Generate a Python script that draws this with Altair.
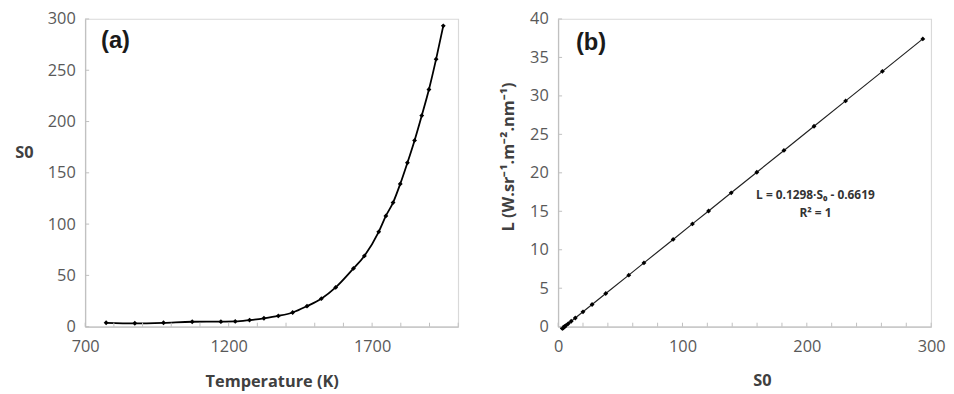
import altair as alt
import pandas as pd

# ---- data ----
temperature_K = [773, 873, 973, 1073, 1173, 1223, 1273, 1323, 1373, 1423, 1473, 1523, 1573,
                 1635, 1673, 1723, 1748, 1773, 1798, 1823, 1848, 1873, 1898, 1923, 1948]
s0_values = [3.8, 3.3, 3.8, 4.8, 4.9, 5.1, 6.4, 8.2, 10.5, 13.8, 20.0, 27.3, 38.3,
             56.8, 69.0, 92.5, 108.0, 121.0, 139.2, 159.8, 181.6, 205.8, 231.2, 260.8, 293.3]
radiance_L = [-0.17, -0.23, -0.17, -0.04, -0.03, 0.0, 0.17, 0.40, 0.70, 1.13, 1.93, 2.88, 4.31,
              6.70, 8.29, 11.34, 13.36, 15.04, 17.40, 20.08, 22.91, 26.05, 29.35, 33.19, 37.41]

a_xlabels = [700, 1200, 1700]
a_xticks = list(range(700, 2001, 100))
a_yticks = [0, 50, 100, 150, 200, 250, 300]
b_xlabels = [0, 100, 200, 300]
b_xticks = list(range(0, 301, 20))
b_yticks = [0, 5, 10, 15, 20, 25, 30, 35, 40]

equation_text = "L = 0.1298·S₀ - 0.6619"
r2_text = "R² = 1"

W, H = 377, 311
FONT = "Open Sans"
LABEL_COLOR = "#595959"
TITLE_COLOR = "#404040"
AXIS_GRAY = "#bfbfbf"

df_a = pd.DataFrame({"T": temperature_K, "S0": s0_values})
df_b = pd.DataFrame({"S0": s0_values, "L": radiance_L})

# ---------------- panel (a) ----------------
xa_scale = alt.Scale(domain=[700, 2000], nice=False, zero=False)
ya_scale = alt.Scale(domain=[0, 300], nice=False)

xa_axis = alt.Axis(values=a_xlabels, format="d", title="Temperature (K)", titleY=60,
                   titleBaseline="alphabetic", labelPadding=12, labelFlush=False)
ya_axis = alt.Axis(values=a_yticks, format="d", title="S0", titleAngle=0, titleX=-62, titleY=135,
                   titleAlign="center", titleBaseline="middle", labelPadding=10)

line_a = alt.Chart(df_a).mark_line(color="black", strokeWidth=1.8, interpolate="monotone").encode(
    x=alt.X("T:Q", scale=xa_scale, axis=xa_axis),
    y=alt.Y("S0:Q", scale=ya_scale, axis=ya_axis),
)
pts_a = alt.Chart(df_a).mark_point(shape="diamond", filled=True, color="black", size=24, opacity=1).encode(
    x=alt.X("T:Q", scale=xa_scale, axis=xa_axis),
    y=alt.Y("S0:Q", scale=ya_scale, axis=ya_axis),
)
xt_a = alt.Chart(pd.DataFrame({"t": a_xticks})).mark_rule(color=AXIS_GRAY).encode(
    x=alt.X("t:Q", scale=xa_scale, axis=xa_axis), y=alt.value(H), y2=alt.value(H - 4))
yt_a = alt.Chart(pd.DataFrame({"t": a_yticks})).mark_rule(color=AXIS_GRAY).encode(
    y=alt.Y("t:Q", scale=ya_scale, axis=ya_axis), x=alt.value(0), x2=alt.value(4))
lab_a = alt.Chart(pd.DataFrame({"t": ["(a)"]})).mark_text(
    font="Liberation Sans", fontSize=24, fontWeight="bold", align="left", baseline="middle", color="#1a1a1a"
).encode(text="t:N", x=alt.value(16), y=alt.value(22))

panel_a = alt.layer(line_a, pts_a, xt_a, yt_a, lab_a).properties(width=W, height=H)

# ---------------- panel (b) ----------------
xb_scale = alt.Scale(domain=[0, 300], nice=False, zero=False)
yb_scale = alt.Scale(domain=[0, 40], nice=False, zero=False)

xb_axis = alt.Axis(values=b_xlabels, format="d", title="S0", titleY=59, titleX=206,
                   titleBaseline="alphabetic", labelPadding=12, labelFlush=False)
yb_axis = alt.Axis(values=b_yticks, format="d", title="L (W.sr⁻¹.m⁻².nm⁻¹)", titleX=-50, titleY=139,
                   titleAlign="center", titleBaseline="middle", labelPadding=10)

line_b = alt.Chart(df_b).mark_line(color="#222222", strokeWidth=1.2).encode(
    x=alt.X("S0:Q", scale=xb_scale, axis=xb_axis),
    y=alt.Y("L:Q", scale=yb_scale, axis=yb_axis),
    order=alt.Order("S0:Q"),
)
pts_b = alt.Chart(df_b).mark_point(shape="diamond", filled=True, color="black", size=24, opacity=1).encode(
    x=alt.X("S0:Q", scale=xb_scale, axis=xb_axis),
    y=alt.Y("L:Q", scale=yb_scale, axis=yb_axis),
)
xt_b = alt.Chart(pd.DataFrame({"t": b_xticks})).mark_rule(color=AXIS_GRAY).encode(
    x=alt.X("t:Q", scale=xb_scale, axis=xb_axis), y=alt.value(H), y2=alt.value(H - 4))
yt_b = alt.Chart(pd.DataFrame({"t": b_yticks})).mark_rule(color=AXIS_GRAY).encode(
    y=alt.Y("t:Q", scale=yb_scale, axis=yb_axis), x=alt.value(0), x2=alt.value(4))
lab_b = alt.Chart(pd.DataFrame({"t": ["(b)"]})).mark_text(
    font="Liberation Sans", fontSize=24, fontWeight="bold", align="left", baseline="middle", color="#1a1a1a"
).encode(text="t:N", x=alt.value(18), y=alt.value(24))
eq_b = alt.Chart(pd.DataFrame({"t": [equation_text]})).mark_text(
    font=FONT, fontSize=12, fontWeight="bold", align="center", baseline="middle", color="#333333"
).encode(text="t:N", x=alt.value(260), y=alt.value(178))
r2_b = alt.Chart(pd.DataFrame({"t": [r2_text]})).mark_text(
    font=FONT, fontSize=12, fontWeight="bold", align="center", baseline="middle", color="#333333"
).encode(text="t:N", x=alt.value(260), y=alt.value(196))

panel_b = alt.layer(line_b, pts_b, xt_b, yt_b, lab_b, eq_b, r2_b).properties(width=W, height=H)

chart = alt.hconcat(panel_a, panel_b, spacing=40).properties(
    padding={"left": 6, "top": 0, "right": 0, "bottom": 5}
).configure_view(
    stroke="#d9d9d9", strokeWidth=1.2
).configure_axis(
    grid=False, ticks=False, domainColor=AXIS_GRAY, domainWidth=1.2,
    labelFont=FONT, labelFontSize=16.5, labelColor=LABEL_COLOR,
    titleFont=FONT, titleFontSize=16.5, titleFontWeight="bold", titleColor=TITLE_COLOR,
).configure_axisY(
    labelAlign="right", labelBaseline="middle"
)

chart.save("out.html", embed_options={"renderer": "svg", "actions": False})
